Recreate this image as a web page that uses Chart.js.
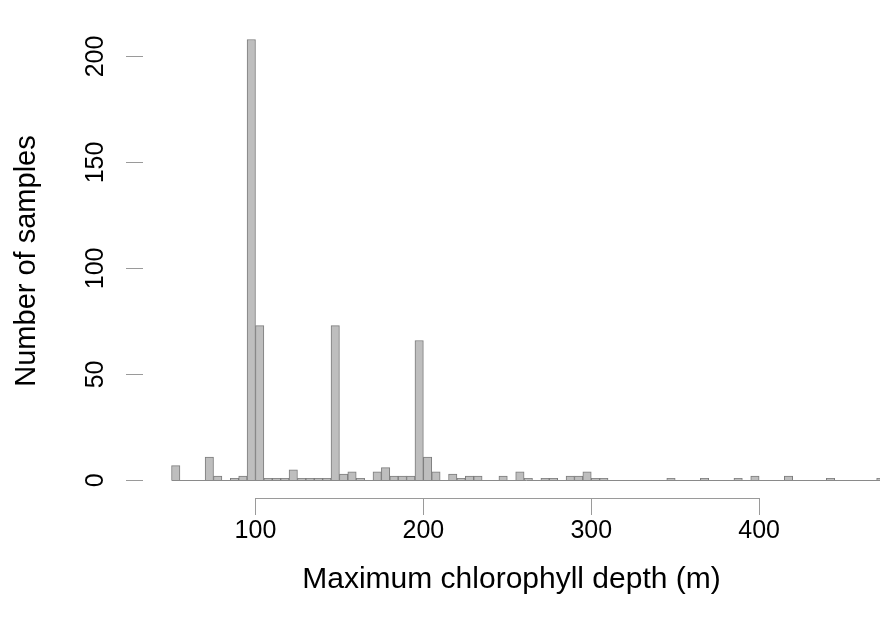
<!DOCTYPE html>
<html>
<head>
<meta charset="utf-8">
<script src="https://cdn.jsdelivr.net/npm/chart.js@4"></script>
<style>
  html, body { margin: 0; padding: 0; background: #fff; overflow: hidden; }
  canvas { display: block; }
</style>
</head>
<body>
<canvas id="histChart" width="880" height="636"></canvas>
<script>
// histogram bins, lower edge of each 5 m bin
const binStart = [50, 55, 60, 65, 70, 75, 80, 85, 90, 95,
  100, 105, 110, 115, 120, 125, 130, 135, 140, 145,
  150, 155, 160, 165, 170, 175, 180, 185, 190, 195,
  200, 205, 210, 215, 220, 225, 230, 235, 240, 245,
  250, 255, 260, 265, 270, 275, 280, 285, 290, 295,
  300, 305, 310, 315, 320, 325, 330, 335, 340, 345,
  350, 355, 360, 365, 370, 375, 380, 385, 390, 395,
  400, 405, 410, 415, 420, 425, 430, 435, 440, 445,
  450, 455, 460, 465, 470];
const binWidth = 5;

const sampleCounts = [7, 0, 0, 0, 11, 2, 0, 1, 2, 208,
  73, 1, 1, 1, 5, 1, 1, 1, 1, 73,
  3, 4, 1, 0, 4, 6, 2, 2, 2, 66,
  11, 4, 0, 3, 1, 2, 2, 0, 0, 2,
  0, 4, 1, 0, 1, 1, 0, 2, 2, 4,
  1, 1, 0, 0, 0, 0, 0, 0, 0, 1,
  0, 0, 0, 1, 0, 0, 0, 1, 0, 2,
  0, 0, 0, 2, 0, 0, 0, 0, 1, 0,
  0, 0, 0, 0, 1];

const xTicks = [100, 200, 300, 400];
const yTicks = [0, 50, 100, 150, 200];

const xTitle = "Maximum chlorophyll depth (m)";
const yTitle = "Number of samples";

const FONT = "'Liberation Sans', Arial, Helvetica, sans-serif";
const AXIS_GREY = "#9a9a9a";

// R-style axis line running only from first to last tick, plus the histogram baseline
const rAxisPlugin = {
  id: "rAxis",
  beforeDatasetsDraw(chart) {
    const { ctx, scales } = chart;
    const y0 = Math.round(scales.y.getPixelForValue(0)) + 0.5;
    const xa = scales.x.getPixelForValue(binStart[0]);
    const xb = scales.x.getPixelForValue(binStart[binStart.length - 1] + binWidth);
    ctx.save();
    ctx.strokeStyle = "#8a8a8a";
    ctx.lineWidth = 1;
    ctx.beginPath();
    ctx.moveTo(xa, y0);
    ctx.lineTo(xb, y0);
    ctx.stroke();
    ctx.restore();
  },
  afterDraw(chart) {
    const { ctx, scales } = chart;
    const yLine = Math.round(scales.x.top) + 0.5;
    ctx.save();
    ctx.strokeStyle = AXIS_GREY;
    ctx.lineWidth = 1;
    ctx.beginPath();
    ctx.moveTo(scales.x.getPixelForValue(xTicks[0]), yLine);
    ctx.lineTo(scales.x.getPixelForValue(xTicks[xTicks.length - 1]), yLine);
    ctx.stroke();
    ctx.restore();
  },
};

const ctx = document.getElementById("histChart").getContext("2d");
new Chart(ctx, {
  type: "bar",
  data: {
    datasets: [
      {
        label: "Samples",
        data: binStart.map((b, i) => ({ x: b + binWidth / 2, y: sampleCounts[i] })),
        backgroundColor: "#bebebe",
        borderColor: "#7c7c7c",
        borderWidth: 1,
        borderSkipped: "bottom",
        categoryPercentage: 1,
        barPercentage: 1,
      },
    ],
  },
  options: {
    responsive: false,
    animation: false,
    layout: { padding: { top: 4, right: 0, left: 0, bottom: 0 } },
    plugins: {
      legend: { display: false },
      tooltip: { enabled: false },
    },
    scales: {
      x: {
        type: "linear",
        offset: false,
        min: 33,
        max: 472,
        afterFit(scale) { scale.height = 138; },
        afterBuildTicks(scale) { scale.ticks = xTicks.map((v) => ({ value: v })); },
        border: { display: false },
        grid: {
          offset: false,
          drawOnChartArea: false,
          drawTicks: true,
          tickLength: 17,
          color: AXIS_GREY,
        },
        ticks: {
          color: "#000",
          font: { family: FONT, size: 25 },
          padding: 1,
          maxRotation: 0,
          autoSkip: false,
        },
        title: {
          display: true,
          text: xTitle,
          color: "#000",
          font: { family: FONT, size: 30 },
          padding: { top: 0, bottom: 38 },
        },
      },
      y: {
        min: -8.3,
        max: 215.3,
        afterFit(scale) { scale.width = 143; },
        afterBuildTicks(scale) { scale.ticks = yTicks.map((v) => ({ value: v })); },
        border: { display: false },
        grid: {
          drawOnChartArea: false,
          drawTicks: true,
          tickLength: 17,
          color: AXIS_GREY,
        },
        ticks: {
          color: "#000",
          font: { family: FONT, size: 25 },
          minRotation: 90,
          maxRotation: 90,
          crossAlign: "center",
          padding: 9,
          autoSkip: false,
        },
        title: {
          display: true,
          text: yTitle,
          color: "#000",
          font: { family: FONT, size: 29 },
          padding: { top: 10, bottom: 0 },
        },
      },
    },
  },
  plugins: [rAxisPlugin],
});
</script>
</body>
</html>
